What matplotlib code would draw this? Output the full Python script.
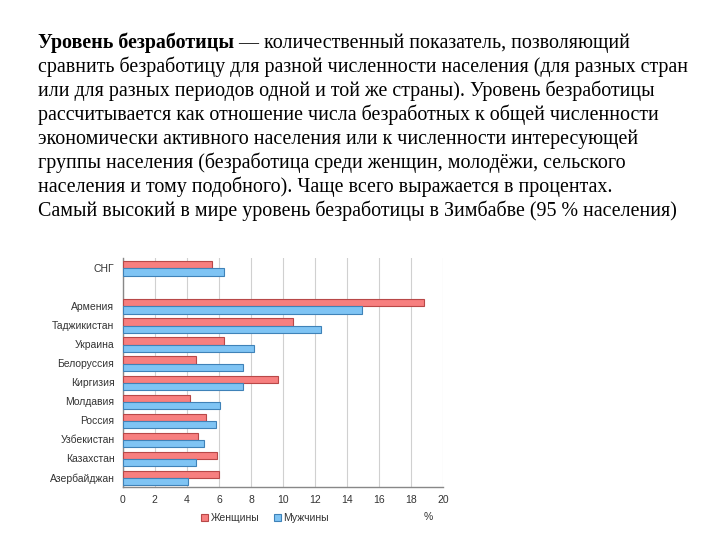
import matplotlib.pyplot as plt
import numpy as np

# data
countries = ['СНГ', '', 'Армения', 'Таджикистан', 'Украина', 'Белоруссия', 'Киргизия',
             'Молдавия', 'Россия', 'Узбекистан', 'Казахстан', 'Азербайджан']
women = [5.6, np.nan, 18.8, 10.6, 6.3, 4.6, 9.7, 4.2, 5.2, 4.7, 5.9, 6.0]
men = [6.3, np.nan, 14.9, 12.4, 8.2, 7.5, 7.5, 6.1, 5.8, 5.05, 4.6, 4.1]
xticks = list(range(0, 21, 2))

lines = [
    "сравнить безработицу для разной численности населения (для разных стран",
    "или для разных периодов одной и той же страны). Уровень безработицы",
    "рассчитывается как отношение числа безработных к общей численности",
    "экономически активного населения или к численности интересующей",
    "группы населения (безработица среди женщин, молодёжи, сельского",
    "населения и тому подобного). Чаще всего выражается в процентах.",
    "Самый высокий в мире уровень безработицы в Зимбабве (95 % населения)",
]

plt.rcParams['font.family'] = ['Liberation Sans', 'DejaVu Sans']

fig = plt.figure(figsize=(7.2, 5.4), dpi=100)
fig.patch.set_facecolor('white')

# text block above the chart
serif = 'Liberation Serif'
fs = 14.4
x0 = 38 / 720
t = fig.text(x0, 1 - 43 / 540, "Уровень безработицы", fontsize=fs, family=serif,
             fontweight='bold', va='center', ha='left')
fig.canvas.draw()
bb = t.get_window_extent()
fig.text(bb.x1 / 720, 1 - 43 / 540, " — количественный показатель, позволяющий",
         fontsize=fs, family=serif, va='center', ha='left')
for i, s in enumerate(lines):
    fig.text(x0, 1 - (43 + 24 * (i + 1)) / 540, s, fontsize=fs, family=serif,
             va='center', ha='left')

# bar chart
ax = fig.add_axes([122.7 / 720, 1 - 487 / 540, (443.3 - 122.7) / 720, (487 - 258) / 540])
y = np.arange(len(countries))
h = 0.38
ax.barh(y - 0.15, women, height=h, color='#F77F7F', edgecolor='#B84848', linewidth=0.8,
        label='Женщины', zorder=3)
ax.barh(y + 0.23, men, height=h, color='#7FC4F4', edgecolor='#3F82B8', linewidth=0.8,
        label='Мужчины', zorder=3)

ax.set_xlim(0, 20)
ax.set_ylim(len(countries) - 0.5, -0.5)
ax.set_xticks(xticks)
ax.set_yticks(y)
ax.set_yticklabels(countries)
ax.tick_params(axis='both', length=0, labelsize=7.5, colors='#333333', pad=6)
ax.grid(axis='x', color='#D0D0D0', linewidth=0.8, zorder=0)
for side in ['top', 'right']:
    ax.spines[side].set_visible(False)
for side in ['left', 'bottom']:
    ax.spines[side].set_color('#888888')
    ax.spines[side].set_linewidth(1)

leg = fig.legend(loc='center', bbox_to_anchor=(265 / 720, 1 - 518 / 540), ncol=2,
                 frameon=False, fontsize=7.5, handlelength=0.7, handleheight=0.7,
                 columnspacing=1.4, handletextpad=0.2)
for txt in leg.get_texts():
    txt.set_color('#333333')
fig.text(428 / 720, 1 - 517 / 540, '%', fontsize=7.5, color='#333333', ha='center', va='center')

fig.savefig('out.png', dpi=100)
